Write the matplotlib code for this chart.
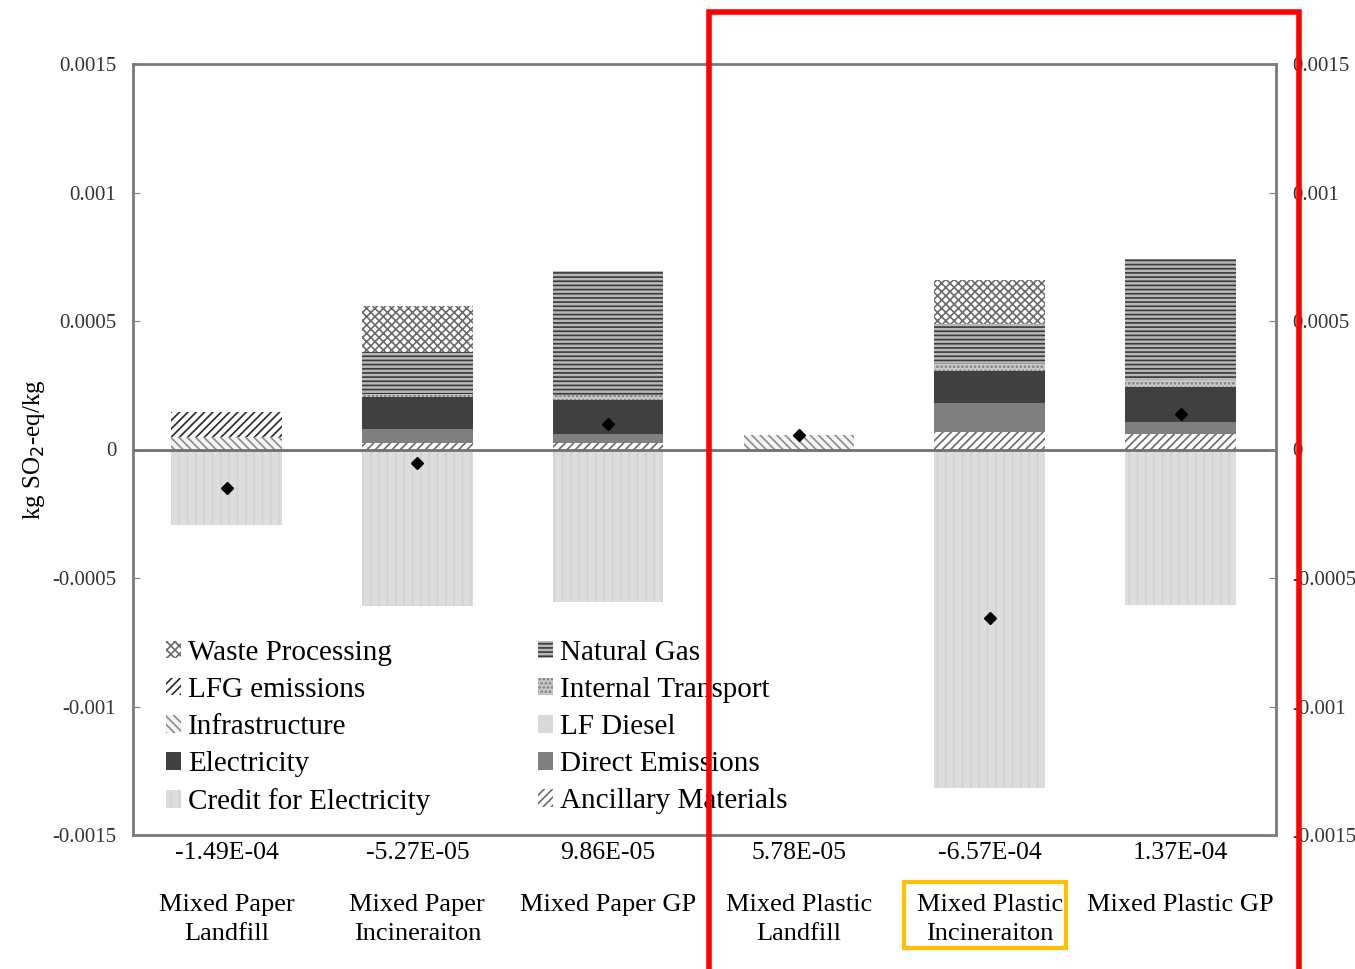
import matplotlib
matplotlib.use("Agg")
import matplotlib.pyplot as plt
from matplotlib.patches import Patch, Rectangle
import matplotlib.transforms as mtransforms

plt.rcParams['font.family'] = ['Liberation Serif', 'DejaVu Serif']
plt.rcParams['hatch.linewidth'] = 1.2

categories = ["Mixed Paper\nLandfill", "Mixed Paper\nIncineraiton", "Mixed Paper GP",
              "Mixed Plastic\nLandfill", "Mixed Plastic\nIncineraiton", "Mixed Plastic GP"]

waste_processing   = [0, 1.79e-4, 0, 0, 1.74e-4, 0]
lfg_emissions      = [9.5e-5, 0, 0, 0, 0, 0]
infrastructure     = [5.0e-5, 0, 0, 5.78e-5, 0, 0]
electricity        = [0, 1.25e-4, 1.32e-4, 0, 1.26e-4, 1.36e-4]
credit_electricity = [-2.94e-4, -6.10e-4, -5.94e-4, 0, -1.318e-3, -6.06e-4]
natural_gas        = [0, 1.63e-4, 4.79e-4, 0, 1.53e-4, 4.71e-4]
internal_transport = [0, 1.2e-5, 2.0e-5, 0, 2.7e-5, 2.9e-5]
lf_diesel          = [0, 0, 0, 0, 0, 0]
direct_emissions   = [0, 5.1e-5, 3.5e-5, 0, 1.11e-4, 4.5e-5]
ancillary          = [0, 2.7e-5, 2.7e-5, 0, 7.0e-5, 6.2e-5]
net_values         = [-1.49e-4, -5.27e-5, 9.86e-5, 5.78e-5, -6.57e-4, 1.37e-4]

yticks = [-0.0015, -0.001, -0.0005, 0, 0.0005, 0.001, 0.0015]
ytick_labels = ["-0.0015", "-0.001", "-0.0005", "0", "0.0005", "0.001", "0.0015"]

styles = {
    "Waste Processing":       dict(fc="white",   ec="#6a6a6a", hatch="xxxx"),
    "LFG emissions":          dict(fc="white",   ec="#2a2a2a", hatch="////"),
    "Infrastructure":         dict(fc="#f4f4f4", ec="#8c8c8c", hatch="\\\\\\\\"),
    "Electricity":            dict(fc="#404040", ec="#404040", hatch=None),
    "Credit for Electricity": dict(fc="#dddddd", ec="#d2d2d2", hatch="||"),
    "Natural Gas":            dict(fc="#b8b8b8", ec="#3a3a3a", hatch="----"),
    "Internal Transport":     dict(fc="#c8c8c8", ec="#7a7a7a", hatch="...."),
    "LF Diesel":              dict(fc="#d9d9d9", ec="#d9d9d9", hatch=None),
    "Direct Emissions":       dict(fc="#7f7f7f", ec="#7f7f7f", hatch=None),
    "Ancillary Materials":    dict(fc="white",   ec="#6a6a6a", hatch="////"),
}

series_pos = [
    ("Ancillary Materials", ancillary),
    ("Infrastructure", infrastructure),
    ("Direct Emissions", direct_emissions),
    ("Electricity", electricity),
    ("Internal Transport", internal_transport),
    ("Natural Gas", natural_gas),
    ("LFG emissions", lfg_emissions),
    ("Waste Processing", waste_processing),
    ("LF Diesel", lf_diesel),
]

fig = plt.figure(figsize=(13.55, 9.69), dpi=100)
ax = fig.add_axes([133/1355, 1-835/969, (1276-133)/1355, (835-64)/969])

x = list(range(len(categories)))
width = 0.58
bottom = [0.0]*len(x)
for name, vals in series_pos:
    st = styles[name]
    ax.bar(x, vals, width, bottom=bottom, facecolor=st["fc"], edgecolor=st["ec"],
           hatch=st["hatch"], linewidth=0, zorder=2)
    bottom = [b + v for b, v in zip(bottom, vals)]

st = styles["Credit for Electricity"]
ax.bar(x, credit_electricity, width, facecolor=st["fc"], edgecolor=st["ec"],
       hatch=st["hatch"], linewidth=0, zorder=2)

ax.axhline(0, color="#707070", lw=2, zorder=3)
ax.plot(x, net_values, linestyle="none", marker="D", markersize=6, color="black", zorder=4)

ax.set_xlim(-0.49, len(x)-0.5)
ax.set_ylim(-0.0015, 0.0015)
ax.set_yticks(yticks)
ax.set_yticklabels(ytick_labels)
ax.set_xticks(x)
ax.set_xticklabels([f"{v:.2E}" for v in net_values], fontsize=18.5)
ax.tick_params(axis="x", length=0, pad=5)
ax.tick_params(axis="y", direction="in", length=5, color="#808080", labelsize=15,
               labelcolor="#333333", pad=12)
for s in ax.spines.values():
    s.set_color("#7a7a7a")
    s.set_linewidth(2)

ax2 = ax.twinx()
ax2.set_ylim(-0.0015, 0.0015)
ax2.set_yticks(yticks)
ax2.set_yticklabels(ytick_labels)
ax2.tick_params(axis="y", direction="in", length=5, color="#808080", labelsize=15,
                labelcolor="#333333", pad=12)
for s in ax2.spines.values():
    s.set_visible(False)

trans = mtransforms.blended_transform_factory(ax.transData, ax.transAxes)
for i, name in enumerate(categories):
    ax.text(i, -0.076, name, transform=trans, ha="center", va="top", fontsize=19,
            linespacing=1.45)

ax.set_ylabel("kg SO$_2$-eq/kg", fontsize=18, labelpad=4)

legend_order = ["Waste Processing", "LFG emissions", "Infrastructure", "Electricity",
                "Credit for Electricity", "Natural Gas", "Internal Transport", "LF Diesel",
                "Direct Emissions", "Ancillary Materials"]
handles = [Patch(facecolor=styles[n]["fc"], edgecolor=styles[n]["ec"], hatch=styles[n]["hatch"],
                 linewidth=0, label=n) for n in legend_order]
ax.legend(handles=handles, ncol=2, loc="upper left", bbox_to_anchor=(0.029, 0.253),
          frameon=False, fontsize=21, handlelength=0.5, handleheight=0.55,
          handletextpad=0.25, labelspacing=0.38, columnspacing=3.7, borderaxespad=0,
          borderpad=0)

# annotation boxes
fig.patches.append(Rectangle((709/1355, -0.05), (1299-709)/1355, 1-12/969+0.05,
                             transform=fig.transFigure, fill=False, edgecolor="#ff0000",
                             linewidth=4, zorder=10))
fig.patches.append(Rectangle((904/1355, 1-948/969), (1066-904)/1355, (948-882)/969,
                             transform=fig.transFigure, fill=False, edgecolor="#ffc000",
                             linewidth=3, zorder=10))

fig.savefig("out.png", dpi=100)
